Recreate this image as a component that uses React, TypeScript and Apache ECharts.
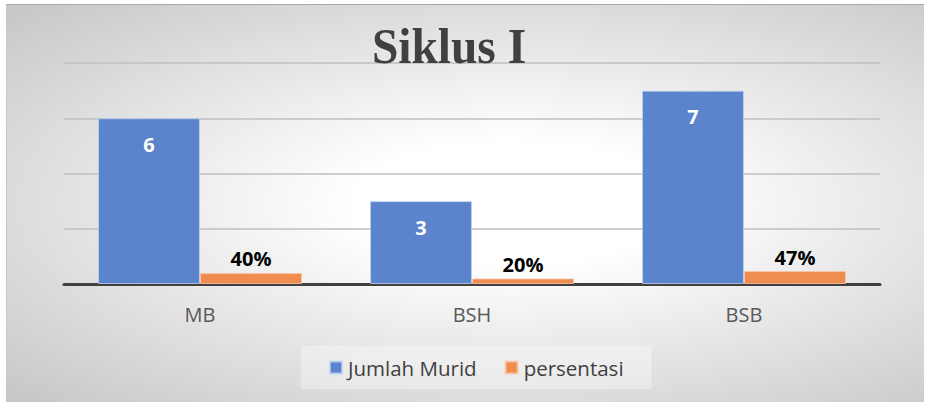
import React, { useEffect, useRef } from "react";
import * as echarts from "echarts";

const categories = ["MB", "BSH", "BSB"];
const jumlahMurid = [6, 3, 7];
const persentasi = [0.4, 0.2, 0.47];
const seriesNames = ["Jumlah Murid", "persentasi"];
const titleText = "Siklus I";

export default function App() {
  const ref = useRef<HTMLDivElement>(null);
  useEffect(() => {
    if (!ref.current) return;
    const chart = echarts.init(ref.current, null, { renderer: "svg" });
    const font = "'Open Sans', sans-serif";
    chart.setOption({
      animation: false,
      backgroundColor: "transparent",
      graphic: [
        {
          type: "text",
          x: 449,
          y: 20,
          scaleX: 0.93,
          z: 10,
          style: {
            text: titleText,
            textAlign: "center",
            textVerticalAlign: "top",
            fontFamily: "'Liberation Serif', 'Times New Roman', serif",
            fontWeight: "bold",
            fontSize: 51,
            fill: "#404040",
          },
        },
      ],
      grid: { left: 64, right: 47, top: 63, bottom: 118 },
      legend: {
        data: seriesNames,
        left: 301,
        top: 346,
        padding: [11, 28],
        backgroundColor: "rgba(255,255,255,0.35)",
        itemWidth: 12,
        itemHeight: 12,
        itemGap: 28,
        icon: "rect",
        textStyle: { fontFamily: font, fontSize: 20.5, color: "#404040", padding: [0, 0, 0, 1] },
      },
      xAxis: {
        type: "category",
        data: categories,
        axisLine: { lineStyle: { color: "#404040", width: 3 } },
        axisTick: { show: false },
        axisLabel: { fontFamily: font, fontSize: 20, color: "#595959", margin: 20 },
      },
      yAxis: {
        type: "value",
        min: 0,
        max: 8,
        interval: 2,
        axisLabel: { show: false },
        axisLine: { show: false },
        axisTick: { show: false },
        splitLine: { lineStyle: { color: "#bfbfbf", width: 1.5 } },
      },
      series: [
        {
          name: seriesNames[0],
          type: "bar",
          data: jumlahMurid,
          barGap: "0%",
          barCategoryGap: "25%",
          itemStyle: { color: "#5B84CC", borderColor: "rgba(190,210,240,0.8)", borderWidth: 1 },
          label: {
            show: true,
            position: "insideTop",
            distance: 16,
            fontFamily: font,
            fontSize: 20,
            fontWeight: "bold",
            color: "#ffffff",
          },
        },
        {
          name: seriesNames[1],
          type: "bar",
          data: persentasi,
          itemStyle: { color: "#EF8D4E", borderColor: "rgba(250,200,170,0.8)", borderWidth: 1 },
          label: {
            show: true,
            position: "top",
            distance: 4,
            fontFamily: font,
            fontSize: 20,
            fontWeight: "bold",
            color: "#000000",
            formatter: (p: any) => Math.round(p.value * 100) + "%",
          },
        },
      ],
    });
    return () => chart.dispose();
  }, []);
  return (
    <div style={{ position: "fixed", left: 0, top: 0, width: 927, height: 402, background: "#ffffff" }}>
      <div
        style={{
          position: "absolute",
          left: 6,
          top: 4,
          width: 918,
          height: 398,
          boxSizing: "border-box",
          borderTop: "1px solid #a8a8a8",
          borderLeft: "1px solid #c8c8c8",
          background:
            "radial-gradient(ellipse farthest-corner at 55% 50%, #ffffff 0%, #ffffff 22%, #c6c6c6 100%)",
        }}
      />
      <div ref={ref} style={{ position: "absolute", left: 0, top: 0, width: 927, height: 402 }} />
    </div>
  );
}
